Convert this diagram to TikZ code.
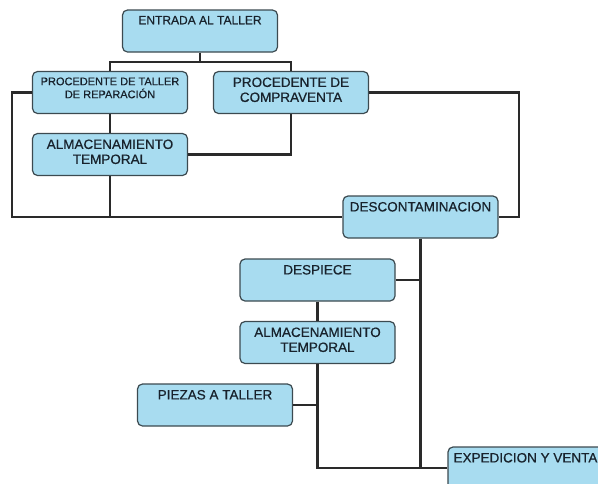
\documentclass[tikz,border=0pt]{standalone}
\usepackage{fontspec}
\setmainfont{Liberation Sans}[FakeBold=0.6]
\usepackage{tikz}
\usetikzlibrary{positioning,calc}
\usepackage{xcolor}
\definecolor{boxfill}{HTML}{A8DCF0}
\definecolor{boxline}{HTML}{3C4A50}
\definecolor{wire}{HTML}{2A2A2A}
\definecolor{boxtext}{HTML}{18222C}
\tikzset{
  stage/.style={
    rectangle, rounded corners=5pt, draw=boxline, fill=boxfill,
    line width=1.2pt, inner xsep=2pt, inner ysep=6pt,
    minimum width=155pt, minimum height=42pt,
    text=boxtext, font=\fontsize{13.5}{15}\selectfont,
    execute at begin node={\begin{minipage}[c][30pt][t]{151pt}\centering},
    execute at end node={\end{minipage}}
  },
  link/.style={
    draw=wire, line width=2.2pt
  }
}
\begin{document}
\begin{tikzpicture}[x=1pt,y=-1pt]
\useasboundingbox (0,0) rectangle (598,483);
% cajas
\node[stage, font=\fontsize{12}{14}\selectfont] (entrada) at (200,31) {ENTRADA AL TALLER};
\node[stage, font=\fontsize{11}{13}\selectfont] (taller) at (110,92.5) {PROCEDENTE DE TALLER\\DE REPARACIÓN};
\node[stage] (compra) at (291,92.5) {PROCEDENTE DE\\COMPRAVENTA};
\node[stage] (almac1) at (110,154.5) {ALMACENAMIENTO\\TEMPORAL};
\node[stage] (descont) at (420.5,217) {DESCONTAMINACION};
\node[stage] (despiece) at (317.5,280) {DESPIECE};
\node[stage] (almac2) at (317.5,342.5) {ALMACENAMIENTO\\TEMPORAL};
\node[stage] (piezas) at (215,405) {PIEZAS A TALLER};
\node[stage] (expedicion) at (525.5,468) {EXPEDICION Y VENTA};

% esquinas
\coordinate (lcorner) at (12,217);
\coordinate (rcorner) at (519,217);

% lineas
\begin{scope}[on background layer/.try]
\draw[link] (entrada.south) -- ++(0,9) -| (taller.north);
\draw[link] (entrada.south) -- ++(0,9) -| (compra.north);
\draw[link] (taller.west) -| (lcorner) -- (descont.west);
\draw[link] (taller.south) -- (almac1.north);
\draw[link] (almac1.south) -- (almac1.south |- descont.west);
\draw[link] (compra.south) |- (almac1.east);
\draw[link] (compra.east) -| (rcorner) -- (descont.east);
\draw[link] (descont.south) -- (descont.south |- expedicion.west);
\draw[link] (despiece.east) -- (descont.south |- despiece.east);
\draw[link] (despiece.south) -- (almac2.north);
\draw[link] (almac2.south) |- (expedicion.west);
\draw[link] (piezas.east) -- (almac2.south |- piezas.east);
\end{scope}
\end{tikzpicture}
\end{document}
